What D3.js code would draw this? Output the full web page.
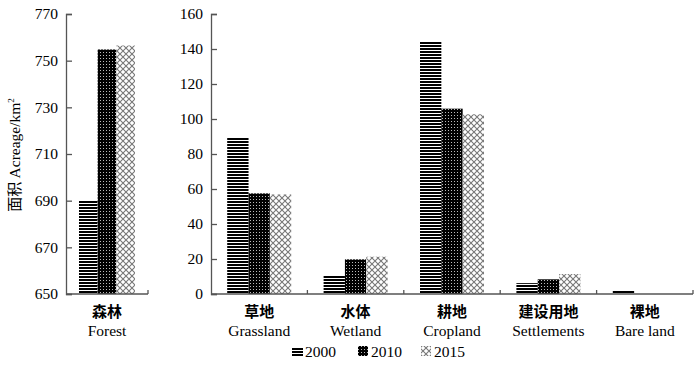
<!DOCTYPE html>
<html>
<head>
<meta charset="utf-8">
<script src="https://cdn.jsdelivr.net/npm/d3@7"></script>
<style>
  body { margin: 0; background: #fff; }
  svg { display: block; }
  .num { font-family: "Liberation Serif", "Times New Roman", serif; font-size: 15.5px; fill: #000; }
  .cn { font-family: "Noto Sans CJK SC", sans-serif; font-size: 15px; font-weight: 700; fill: #000; }
</style>
</head>
<body>
<svg width="700" height="366"></svg>
<script>
const years = ['2000', '2010', '2015']
const forestCat = ['森林']
const forestEn = ['Forest']
const forest2000 = [690]
const forest2010 = [754.8]
const forest2015 = [756.5]

const cats = ['草地', '水体', '耕地', '建设用地', '裸地']
const catsEn = ['Grassland', 'Wetland', 'Cropland', 'Settlements', 'Bare land']
const v2000 = [89.5, 10.3, 144.4, 6.2, 2.2]
const v2010 = [57.5, 19.8, 105.9, 8.4, 0]
const v2015 = [56.9, 21.3, 102.7, 11.4, 0]

const leftTicks = [650, 670, 690, 710, 730, 750, 770]
const rightTicks = [0, 20, 40, 60, 80, 100, 120, 140, 160]

const plotTop = 14, plotBottom = 294
const axisColor = '#555'

const svg = d3.select('svg')
const defs = svg.append('defs')

// 横线
const p1 = defs.append('pattern').attr('id', 'p2000').attr('patternUnits', 'userSpaceOnUse').attr('width', 4).attr('height', 3)
p1.append('rect').attr('width', 4).attr('height', 3).attr('fill', '#fff')
p1.append('rect').attr('width', 4).attr('height', 2).attr('fill', '#000')

// 密点
const p2 = defs.append('pattern').attr('id', 'p2010').attr('patternUnits', 'userSpaceOnUse').attr('width', 3).attr('height', 3)
p2.append('rect').attr('width', 3).attr('height', 3).attr('fill', '#000')
p2.append('rect').attr('x', 1).attr('y', 1).attr('width', 1).attr('height', 1).attr('fill', '#bbb')

// 网格
const p3 = defs.append('pattern').attr('id', 'p2015').attr('patternUnits', 'userSpaceOnUse').attr('width', 6).attr('height', 6)
p3.append('rect').attr('width', 6).attr('height', 6).attr('fill', '#fff')
p3.append('path').attr('d', 'M0,0L6,6M6,0L0,6').attr('stroke', '#777').attr('stroke-width', 1.1)

const fills = {'2000': 'url(#p2000)', '2010': 'url(#p2010)', '2015': 'url(#p2015)'}

function panel(x0, x1, domain, ticks, categories, catEn, series, groupW) {
  const x = d3.scaleBand().domain(categories).range([x0, x1])
  const y = d3.scaleLinear().domain(domain).range([plotBottom, plotTop])
  const xi = d3.scaleBand().domain(years).range([0, groupW])
  const g = svg.append('g')

  categories.forEach((c, i) => {
    const gx = x(c) + x.bandwidth() / 2 - groupW / 2
    years.forEach((yr, k) => {
      const v = series[k][i]
      if (v <= domain[0]) return
      g.append('rect')
        .attr('x', gx + xi(yr))
        .attr('y', y(v))
        .attr('width', xi.bandwidth())
        .attr('height', y(domain[0]) - y(v))
        .attr('fill', fills[yr])
    })
  })

  const ya = d3.axisLeft(y).tickValues(ticks).tickSize(-6).tickPadding(8).tickFormat(d3.format('d'))
  const ag = g.append('g').attr('transform', `translate(${x0},0)`).call(ya)
  ag.select('.domain').attr('stroke', axisColor).attr('stroke-width', 1.3)
  ag.selectAll('.tick line').attr('stroke', axisColor).attr('stroke-width', 1.3)
  ag.selectAll('.tick text').attr('class', 'num').attr('font-family', null).attr('font-size', null)

  // x轴
  g.append('line').attr('x1', x0).attr('x2', x1).attr('y1', plotBottom).attr('y2', plotBottom)
    .attr('stroke', axisColor).attr('stroke-width', 1.3)
  categories.forEach(c => {
    const tx = x(c) + x.bandwidth()
    g.append('line').attr('x1', tx).attr('x2', tx).attr('y1', plotBottom).attr('y2', plotBottom - 4)
      .attr('stroke', axisColor).attr('stroke-width', 1.3)
  })

  categories.forEach((c, i) => {
    const cx = x(c) + x.bandwidth() / 2
    g.append('text').attr('class', 'cn').attr('x', cx).attr('y', 317).attr('text-anchor', 'middle').text(c)
    g.append('text').attr('class', 'num').attr('x', cx).attr('y', 336).attr('text-anchor', 'middle').text(catEn[i])
  })
}

panel(66, 148, [650, 770], leftTicks, forestCat, forestEn, [forest2000, forest2010, forest2015], 56)
panel(211, 693, [0, 160], rightTicks, cats, catsEn, [v2000, v2010, v2015], 64)

// y轴标题
const yt = svg.append('text').attr('transform', 'translate(20,155) rotate(-90)').attr('text-anchor', 'middle')
yt.append('tspan').attr('font-family', 'Noto Sans CJK SC, sans-serif').attr('font-size', 15).text('面积 ')
yt.append('tspan').attr('font-family', 'Liberation Serif, serif').attr('font-size', 15.5).text('Acreage/km')
yt.append('tspan').attr('font-family', 'Liberation Serif, serif').attr('font-size', 9).attr('dy', -6).text('2')

// 图例
const legX = [292, 358, 421]
const lg = svg.append('g')
years.forEach((yr, k) => {
  const lx = legX[k]
  if (yr === '2000') {
    lg.append('rect').attr('x', lx).attr('y', 347).attr('width', 11).attr('height', 9).attr('fill', fills[yr])
  } else {
    lg.append('rect').attr('x', lx).attr('y', 346).attr('width', 10).attr('height', 10).attr('fill', fills[yr])
  }
  lg.append('text').attr('class', 'num').attr('x', lx + 13).attr('y', 357).text(yr)
})
</script>
</body>
</html>
